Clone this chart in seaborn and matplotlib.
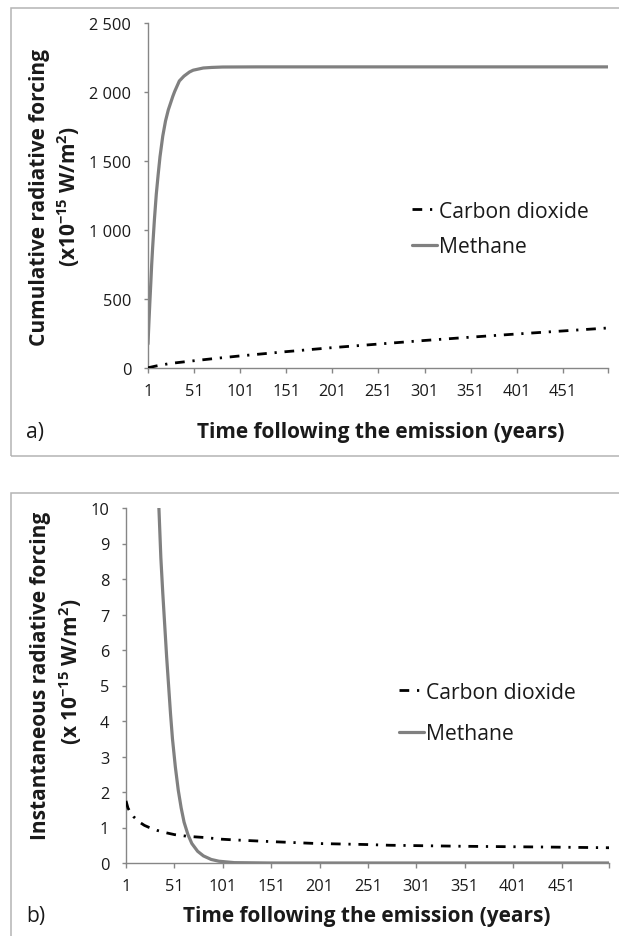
import matplotlib
matplotlib.use("Agg")
import matplotlib.pyplot as plt
import seaborn as sns
import pandas as pd
from matplotlib.patches import Rectangle
from matplotlib.lines import Line2D

# ---------------- data ----------------
cum_ch4_years = [1, 2, 3, 4, 5, 6, 8, 10, 12, 14, 17, 20, 23, 25, 28, 30, 35, 40, 46, 50, 61,
                 70, 82, 120, 500]
cum_ch4_vals = [174, 330, 475, 610, 750, 870, 1080, 1260, 1400, 1530, 1680, 1790, 1870, 1910,
                1970, 2005, 2080, 2115, 2145, 2158, 2174, 2178, 2181, 2182, 2182]

cum_co2_years = [1, 10, 25, 50, 75, 100, 150, 200, 250, 300, 350, 400, 450, 500]
cum_co2_vals = [1.7, 15, 33, 52, 70, 87, 118, 147, 173, 199, 223, 246, 268, 290]

inst_co2_years = [1, 3, 5, 9, 15, 20, 25, 33, 41, 51, 65, 81, 100, 113, 153, 197, 250, 273,
                  353, 433, 500]
inst_co2_vals = [1.75, 1.55, 1.45, 1.30, 1.15, 1.06, 1.0, 0.92, 0.86, 0.80, 0.75, 0.72, 0.67,
                 0.65, 0.60, 0.55, 0.52, 0.50, 0.47, 0.45, 0.43]

inst_ch4_years = [35, 37, 39, 41, 43, 45, 47, 49, 52, 55, 58, 61, 65, 69, 75, 81, 89, 97, 113,
                  150, 500]
inst_ch4_vals = [10.0, 8.6, 7.6, 6.7, 5.8, 5.0, 4.2, 3.5, 2.7, 2.05, 1.55, 1.15, 0.8, 0.55, 0.33,
                 0.2, 0.1, 0.05, 0.01, 0.0, 0.0]

series_names = ["Carbon dioxide", "Methane"]
x_ticks = [1, 51, 101, 151, 201, 251, 301, 351, 401, 451, 500]
x_tick_labels = ["1", "51", "101", "151", "201", "251", "301", "351", "401", "451", ""]
y_ticks_a = [0, 500, 1000, 1500, 2000, 2500]
y_tick_labels_a = ["0", "500", "1 000", "1 500", "2 000", "2 500"]
y_ticks_b = list(range(0, 11))
y_tick_labels_b = [str(v) for v in y_ticks_b]

xlabel_text = "Time following the emission (years)"
ylabel_a = ["Cumulative radiative forcing", r"(x10$^{\mathbf{-15}}$ W/m$^{\mathbf{2}}$)"]
ylabel_b = ["Instantaneous radiative forcing", r"(x 10$^{\mathbf{-15}}$ W/m$^{\mathbf{2}}$)"]

# ---------------- style ----------------
sns.set_theme(style="white")
FONT = "Open Sans"
plt.rcParams["font.family"] = [FONT, "DejaVu Sans"]
plt.rcParams["mathtext.fontset"] = "custom"
plt.rcParams["mathtext.rm"] = FONT
plt.rcParams["mathtext.bf"] = FONT + ":bold"
plt.rcParams["mathtext.it"] = FONT

TXT = "#1a1a1a"
AXC = "#868686"
CH4C = "#808080"
co2_style = (0, (3.5, 2.8, 0.8, 2.8))

TICK_FS = 11.8
TITLE_FS = 15.0
LEG_FS = 15.2

W, H = 619, 937
fig = plt.figure(figsize=(W / 100, H / 100), dpi=100)


def fx(px):
    return px / W


def fy(py):
    return 1 - py / H


# panel frames
fig.patches.append(Rectangle((fx(11), fy(457)), 1.05, fy(9) - fy(457), transform=fig.transFigure,
                             fill=False, edgecolor="#b4b4b4", lw=1.1, zorder=0))
fig.patches.append(Rectangle((fx(11), -0.05), 1.05, fy(494) + 0.05, transform=fig.transFigure,
                             fill=False, edgecolor="#b4b4b4", lw=1.1, zorder=0))

ax_a = fig.add_axes([fx(148), fy(369), fx(608 - 148), (369 - 24) / H])
ax_b = fig.add_axes([fx(126), fy(864), fx(609 - 126), (864 - 509) / H])

df_a = pd.concat([
    pd.DataFrame({"year": cum_co2_years, "value": cum_co2_vals, "gas": series_names[0]}),
    pd.DataFrame({"year": cum_ch4_years, "value": cum_ch4_vals, "gas": series_names[1]}),
])
df_b = pd.concat([
    pd.DataFrame({"year": inst_co2_years, "value": inst_co2_vals, "gas": series_names[0]}),
    pd.DataFrame({"year": inst_ch4_years, "value": inst_ch4_vals, "gas": series_names[1]}),
])

palette = {series_names[0]: "black", series_names[1]: CH4C}


def draw(ax, df, yticks, ylabels, ylim, leg_xy, leg_spacing):
    sns.lineplot(data=df, x="year", y="value", hue="gas", palette=palette, ax=ax,
                 lw=2.0, legend=False, sort=False, estimator=None)
    lines = ax.get_lines()
    lines[0].set_linestyle(co2_style)
    lines[0].set_zorder(3)
    lines[1].set_linewidth(2.3)
    lines[1].set_solid_joinstyle("round")
    ax.set_xlim(1, 500)
    ax.set_ylim(*ylim)
    ax.set_xticks(x_ticks)
    ax.set_xticklabels(x_tick_labels)
    ax.set_yticks(yticks)
    ax.set_yticklabels(ylabels)
    ax.set_xlabel("")
    ax.set_ylabel("")
    for s in ["top", "right"]:
        ax.spines[s].set_visible(False)
    for s in ["left", "bottom"]:
        ax.spines[s].set_color(AXC)
        ax.spines[s].set_linewidth(1.0)
    ax.tick_params(axis="x", direction="out", length=3.8, width=1.0, color=AXC, pad=7,
                   labelsize=TICK_FS, labelcolor=TXT, bottom=True)
    ax.tick_params(axis="y", direction="out", length=3.0, width=1.0, color=AXC, pad=9,
                   labelsize=TICK_FS, labelcolor=TXT, left=True)
    ax.patch.set_alpha(0)
    handles = [Line2D([], [], color="black", lw=2.0, linestyle=co2_style),
               Line2D([], [], color=CH4C, lw=2.3)]
    ax.legend(handles, series_names, loc="center left", bbox_to_anchor=leg_xy, frameon=False,
              fontsize=LEG_FS, handlelength=1.2, handletextpad=0.08, labelspacing=leg_spacing,
              borderaxespad=0, borderpad=0, labelcolor=TXT)


draw(ax_a, df_a, y_ticks_a, y_tick_labels_a, (0, 2500),
     ((412 - 148) / 460, (369 - 230) / 345), 0.68)
draw(ax_b, df_b, y_ticks_b, y_tick_labels_b, (0, 10),
     ((399 - 126) / 483, (864 - 714) / 355), 0.97)

# axis titles
fig.text(fx(381), fy(433), xlabel_text, ha="center", va="center", fontsize=TITLE_FS,
         fontweight="bold", color=TXT)
fig.text(fx(367), fy(917), xlabel_text, ha="center", va="center", fontsize=TITLE_FS,
         fontweight="bold", color=TXT)
fig.text(fx(40), fy(197), ylabel_a[0], rotation=90, ha="center", va="center", fontsize=TITLE_FS,
         fontweight="bold", color=TXT)
fig.text(fx(69), fy(197), ylabel_a[1], rotation=90, ha="center", va="center", fontsize=TITLE_FS,
         fontweight="bold", color=TXT)
fig.text(fx(41), fy(676), ylabel_b[0], rotation=90, ha="center", va="center", fontsize=TITLE_FS,
         fontweight="bold", color=TXT)
fig.text(fx(71), fy(672), ylabel_b[1], rotation=90, ha="center", va="center", fontsize=TITLE_FS,
         fontweight="bold", color=TXT)

# panel letters
fig.text(fx(26), fy(433), "a)", ha="left", va="center", fontsize=LEG_FS, color=TXT)
fig.text(fx(26), fy(917), "b)", ha="left", va="center", fontsize=LEG_FS, color=TXT)

fig.savefig("out.png", dpi=100)
